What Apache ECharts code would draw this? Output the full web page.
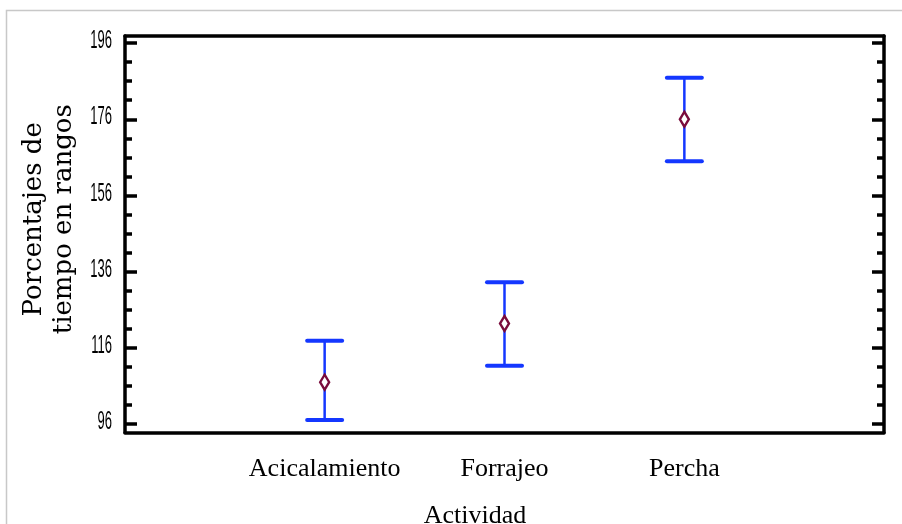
<!DOCTYPE html>
<html>
<head>
<meta charset="utf-8">
<script src="https://cdn.jsdelivr.net/npm/echarts@6/dist/echarts.min.js"></script>
<style>
html,body{margin:0;padding:0;background:#fff;}
#chart{width:902px;height:524px;}
</style>
</head>
<body>
<div id="chart"></div>
<script>
// Data
const categories = ['Acicalamiento', 'Forrajeo', 'Percha'];
const meanValues = [107.0, 122.4, 176.0];
const lowerValues = [97.1, 111.3, 165.0];
const upperValues = [117.9, 133.2, 186.9];
const yTickLabels = [96, 116, 136, 156, 176, 196];
const yMinorTicks = [101, 106, 111, 121, 126, 131, 141, 146, 151, 161, 166, 171, 181, 186, 191];
const xTitle = 'Actividad';
const yTitle = 'Porcentajes de\ntiempo en rangos';

const BLUE = '#1437ff';
const MAROON = '#7a0c3c';
const Y_MIN = 93.8, Y_MAX = 197.85;
const X_MIN = -0.11, X_MAX = 4.11;

const chart = echarts.init(document.getElementById('chart'));

const errData = categories.map((c, i) => [i + 1, lowerValues[i], upperValues[i]]);
const meanData = categories.map((c, i) => [i + 1, meanValues[i]]);

const gridPos = { left: 125, right: 18, top: 36, bottom: 91.5, containLabel: false, outerBoundsMode: 'none' };

const axisLineStyle = { show: true, onZero: false, lineStyle: { color: '#000', width: 3.5 } };

function yAxisDef(grid, pos, ticks, len, showLine) {
  return {
    gridIndex: grid, type: 'value', position: pos,
    min: Y_MIN, max: Y_MAX,
    axisLine: showLine ? axisLineStyle : { show: false, onZero: false },
    axisTick: { show: true, inside: true, length: len, customValues: ticks, lineStyle: { color: '#000', width: 3.5 } },
    axisLabel: { show: false },
    splitLine: { show: false }
  };
}

const yMain = yAxisDef(0, 'left', yTickLabels, 12, true);
Object.assign(yMain, {
  name: yTitle,
  nameLocation: 'middle',
  nameGap: 46,
  nameMoveOverlap: false,
  nameTextStyle: { fontFamily: 'DejaVu Serif, serif', fontSize: 26, lineHeight: 30, color: '#000', padding: [0, 0, 0, 30] }
});

const option = {
  backgroundColor: '#fff',
  animation: false,
  grid: [Object.assign({}, gridPos), Object.assign({}, gridPos)],
  xAxis: [
    {
      gridIndex: 0, type: 'value', position: 'bottom',
      min: X_MIN, max: X_MAX,
      axisLine: axisLineStyle,
      axisTick: { show: false },
      splitLine: { show: false },
      axisLabel: {
        customValues: categories.map((c, i) => i + 1),
        formatter: v => categories[Math.round(v) - 1] || '',
        fontFamily: 'Liberation Serif, serif',
        fontSize: 26, color: '#000', margin: 24
      },
      name: xTitle,
      nameLocation: 'middle',
      nameGap: 71,
      nameMoveOverlap: false,
      nameTextStyle: { fontFamily: 'Liberation Serif, serif', fontSize: 26, color: '#000', padding: [0, 59, 0, 0] }
    },
    {
      gridIndex: 0, type: 'value', position: 'top',
      min: X_MIN, max: X_MAX,
      axisLine: axisLineStyle,
      axisTick: { show: false },
      axisLabel: { show: false },
      splitLine: { show: false }
    },
    {
      gridIndex: 1, type: 'value', show: false, min: X_MIN, max: X_MAX,
      axisLine: { onZero: false }
    }
  ],
  yAxis: [
    yMain,
    yAxisDef(0, 'right', yTickLabels, 12, true),
    yAxisDef(1, 'left', yMinorTicks, 7, false),
    yAxisDef(1, 'right', yMinorTicks, 7, false)
  ],
  series: [
    {
      type: 'custom',
      xAxisIndex: 0, yAxisIndex: 0,
      data: errData,
      z: 2,
      renderItem: function (params, api) {
        const x = api.value(0), lo = api.value(1), hi = api.value(2);
        const pLo = api.coord([x, lo]);
        const pHi = api.coord([x, hi]);
        const half = 17.5;
        return {
          type: 'group',
          children: [
            { type: 'line', shape: { x1: pHi[0], y1: pHi[1], x2: pLo[0], y2: pLo[1] }, style: { stroke: BLUE, lineWidth: 2.5 } },
            { type: 'line', shape: { x1: pHi[0] - half, y1: pHi[1], x2: pHi[0] + half, y2: pHi[1] }, style: { stroke: BLUE, lineWidth: 4, lineCap: 'round' } },
            { type: 'line', shape: { x1: pLo[0] - half, y1: pLo[1], x2: pLo[0] + half, y2: pLo[1] }, style: { stroke: BLUE, lineWidth: 4, lineCap: 'round' } }
          ]
        };
      }
    },
    {
      type: 'scatter',
      xAxisIndex: 0, yAxisIndex: 0,
      data: meanData,
      symbol: 'diamond',
      symbolSize: [9, 15],
      z: 3,
      itemStyle: { color: '#fff', borderColor: MAROON, borderWidth: 2.5, opacity: 1 }
    }
  ]
};

chart.setOption(option);

// Outer frame and condensed y tick labels (positions from the axis scale)
const graphics = [{
  type: 'rect',
  shape: { x: 6.5, y: 10.5, width: 2000, height: 2000 },
  style: { fill: 'none', stroke: '#c8c8c8', lineWidth: 1.5 },
  silent: true,
  z: -10
}];
yTickLabels.forEach(v => {
  const py = chart.convertToPixel({ yAxisIndex: 0 }, v);
  graphics.push({
    type: 'text',
    x: 112, y: py - 2,
    scaleX: 0.5,
    style: {
      text: String(v),
      fontFamily: 'Liberation Sans, Arial, sans-serif',
      fontSize: 26,
      fill: '#000',
      align: 'right',
      verticalAlign: 'middle'
    },
    silent: true
  });
});
chart.setOption({ graphic: graphics });
</script>
</body>
</html>
